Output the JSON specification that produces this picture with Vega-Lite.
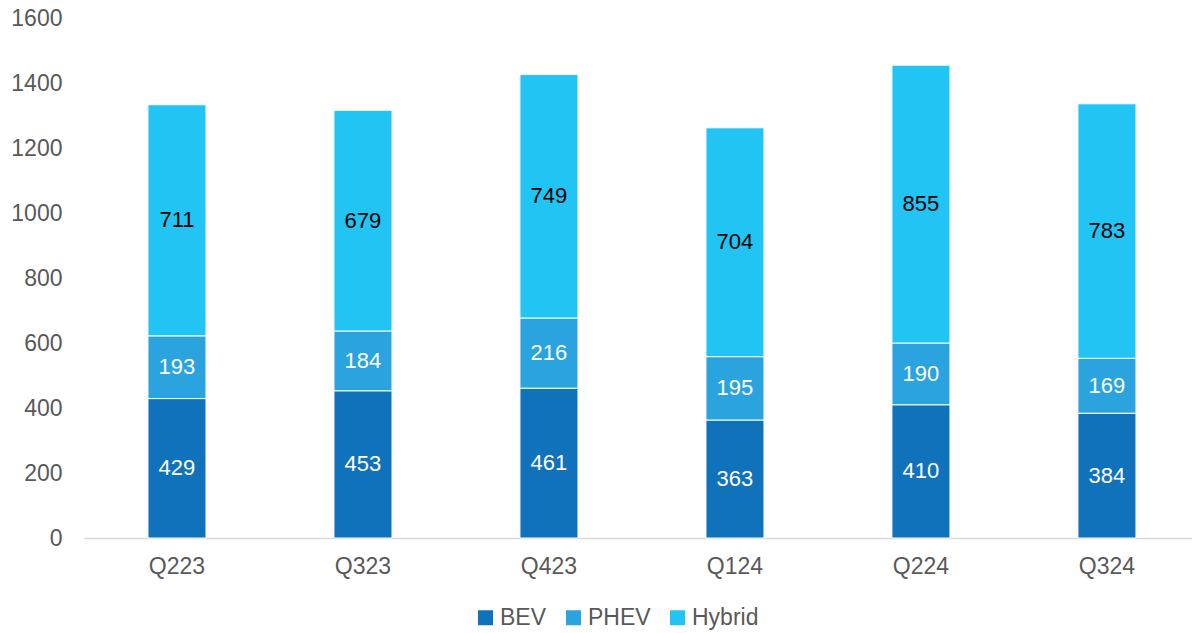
{
  "$schema": "https://vega.github.io/schema/vega-lite/v6.json",
  "width": 1108,
  "height": 520,
  "autosize": {"type": "none"},
  "padding": {"left": 84, "top": 18, "right": 0, "bottom": 95},
  "config": {"view": {"stroke": null}, "font": "Liberation Sans"},
  "data": {
    "values": [
      {"quarter": "Q223", "type": "BEV", "order": 1, "value": 429},
      {"quarter": "Q223", "type": "PHEV", "order": 2, "value": 193},
      {"quarter": "Q223", "type": "Hybrid", "order": 3, "value": 711},
      {"quarter": "Q323", "type": "BEV", "order": 1, "value": 453},
      {"quarter": "Q323", "type": "PHEV", "order": 2, "value": 184},
      {"quarter": "Q323", "type": "Hybrid", "order": 3, "value": 679},
      {"quarter": "Q423", "type": "BEV", "order": 1, "value": 461},
      {"quarter": "Q423", "type": "PHEV", "order": 2, "value": 216},
      {"quarter": "Q423", "type": "Hybrid", "order": 3, "value": 749},
      {"quarter": "Q124", "type": "BEV", "order": 1, "value": 363},
      {"quarter": "Q124", "type": "PHEV", "order": 2, "value": 195},
      {"quarter": "Q124", "type": "Hybrid", "order": 3, "value": 704},
      {"quarter": "Q224", "type": "BEV", "order": 1, "value": 410},
      {"quarter": "Q224", "type": "PHEV", "order": 2, "value": 190},
      {"quarter": "Q224", "type": "Hybrid", "order": 3, "value": 855},
      {"quarter": "Q324", "type": "BEV", "order": 1, "value": 384},
      {"quarter": "Q324", "type": "PHEV", "order": 2, "value": 169},
      {"quarter": "Q324", "type": "Hybrid", "order": 3, "value": 783}
    ]
  },
  "transform": [
    {"stack": "value", "groupby": ["quarter"], "sort": [{"field": "order"}], "as": ["v0", "v1"]},
    {"calculate": "(datum.v0 + datum.v1) / 2", "as": "mid"}
  ],
  "encoding": {
    "x": {
      "field": "quarter",
      "type": "nominal",
      "sort": ["Q223", "Q323", "Q423", "Q124", "Q224", "Q324"],
      "scale": {"paddingInner": 0.688, "paddingOuter": 0.3226, "align": 0.533},
      "axis": {
        "title": null,
        "labelAngle": 0,
        "labelFontSize": 23,
        "labelColor": "#595959",
        "labelPadding": 17,
        "ticks": false,
        "domainColor": "#D9D9D9",
        "domainWidth": 1.5,
        "grid": false
      }
    }
  },
  "layer": [
    {
      "mark": {"type": "bar", "stroke": "white", "strokeWidth": 1},
      "encoding": {
        "y": {
          "field": "v0",
          "type": "quantitative",
          "scale": {"domain": [0, 1600]},
          "axis": {
            "title": null,
            "format": "d",
            "values": [0, 200, 400, 600, 800, 1000, 1200, 1400, 1600],
            "grid": false,
            "domain": false,
            "ticks": false,
            "labelFontSize": 23,
            "labelColor": "#595959",
            "labelPadding": 22
          }
        },
        "y2": {"field": "v1"},
        "color": {
          "field": "type",
          "type": "nominal",
          "sort": ["BEV", "PHEV", "Hybrid"],
          "scale": {"domain": ["BEV", "PHEV", "Hybrid"], "range": ["#0F72BA", "#2AA3DE", "#21C4F2"]},
          "legend": {
            "title": null,
            "orient": "none",
            "direction": "horizontal",
            "legendX": 390,
            "legendY": 588,
            "symbolType": "square",
            "symbolSize": 225,
            "symbolStrokeWidth": 0,
            "symbolOpacity": 1,
            "labelFontSize": 23,
            "labelColor": "#595959",
            "labelOffset": 3,
            "columnPadding": 15
          }
        }
      }
    },
    {
      "mark": {"type": "text", "fontSize": 22},
      "encoding": {
        "y": {"field": "mid", "type": "quantitative"},
        "text": {"field": "value", "type": "quantitative"},
        "color": {
          "condition": {"test": "datum.type === 'Hybrid'", "value": "#000000"},
          "value": "#FFFFFF"
        }
      }
    }
  ]
}
